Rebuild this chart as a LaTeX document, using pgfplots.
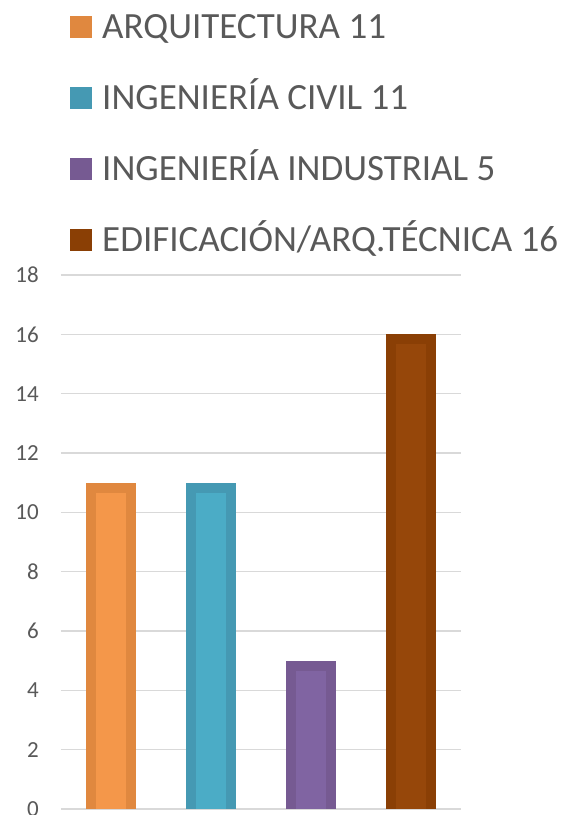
\documentclass[border=0pt]{standalone}
\usepackage{fontspec}
\setmainfont{Carlito}
\usepackage{pgfplots}
\pgfplotsset{compat=1.18}

\definecolor{txt}{HTML}{595959}
\definecolor{gridc}{HTML}{D9D9D9}
\definecolor{orgL}{HTML}{F4974A}
\definecolor{orgD}{HTML}{E0883F}
\definecolor{teaL}{HTML}{4BACC6}
\definecolor{teaD}{HTML}{4599B3}
\definecolor{purL}{HTML}{8064A2}
\definecolor{purD}{HTML}{765A92}
\definecolor{brnL}{HTML}{96470A}
\definecolor{brnD}{HTML}{8A3F05}

% outer bar (border colour) and inner bar (lighter fill, 10pt in from the edge)
\pgfplotsset{
    outerbar/.style={fill=#1, draw=none, bar width=50pt,
        legend image code/.code={\fill[#1, draw=none] (0pt,-11.5pt) rectangle (22pt,10.5pt);}},
    innerbar/.style={fill=#1, draw=none, bar width=30pt, yshift=-10pt, forget plot},
}

\begin{document}
\begin{tikzpicture}
\useasboundingbox (0,0) rectangle (569pt,815pt);
\begin{axis}[
    at={(61pt,6pt)}, anchor=south west,
    scale only axis,
    width=400pt, height=534pt,
    xmin=-0.5, xmax=3.5,
    ymin=0, ymax=18,
    ytick={0,2,...,18},
    xtick=\empty,
    ymajorgrids,
    grid style={draw=gridc, line width=1.5pt},
    axis lines*=left,
    axis line style={draw=none},
    major tick length=0pt,
    /pgf/number format/assume math mode=true,
    yticklabel style={font=\fontsize{23}{25}\selectfont, text=txt, inner sep=0pt, anchor=east, xshift=-22pt},
    ybar, bar shift=0pt,
    legend cell align=left,
    legend style={
        at={(axis description cs:0,1)}, anchor=north west,
        xshift=9pt, yshift=260pt,
        draw=none, fill=none, inner sep=0pt,
        row sep=48pt, column sep=10pt,
        font=\fontsize{37}{40}\selectfont,
        text=txt,
        nodes={inner sep=0pt, text height=23pt, text depth=0pt},
    },
]
\addplot[outerbar=orgD] coordinates {(0,11)};
\addlegendentry{ARQUITECTURA 11}
\addplot[outerbar=teaD] coordinates {(1,11)};
\addlegendentry{INGENIERÍA CIVIL 11}
\addplot[outerbar=purD] coordinates {(2,5)};
\addlegendentry{INGENIERÍA INDUSTRIAL 5}
\addplot[outerbar=brnD] coordinates {(3,16)};
\addlegendentry{EDIFICACIÓN/ARQ.TÉCNICA 16}

\addplot[innerbar=orgL] coordinates {(0,11)};
\addplot[innerbar=teaL] coordinates {(1,11)};
\addplot[innerbar=purL] coordinates {(2,5)};
\addplot[innerbar=brnL] coordinates {(3,16)};
\end{axis}
\end{tikzpicture}
\end{document}
